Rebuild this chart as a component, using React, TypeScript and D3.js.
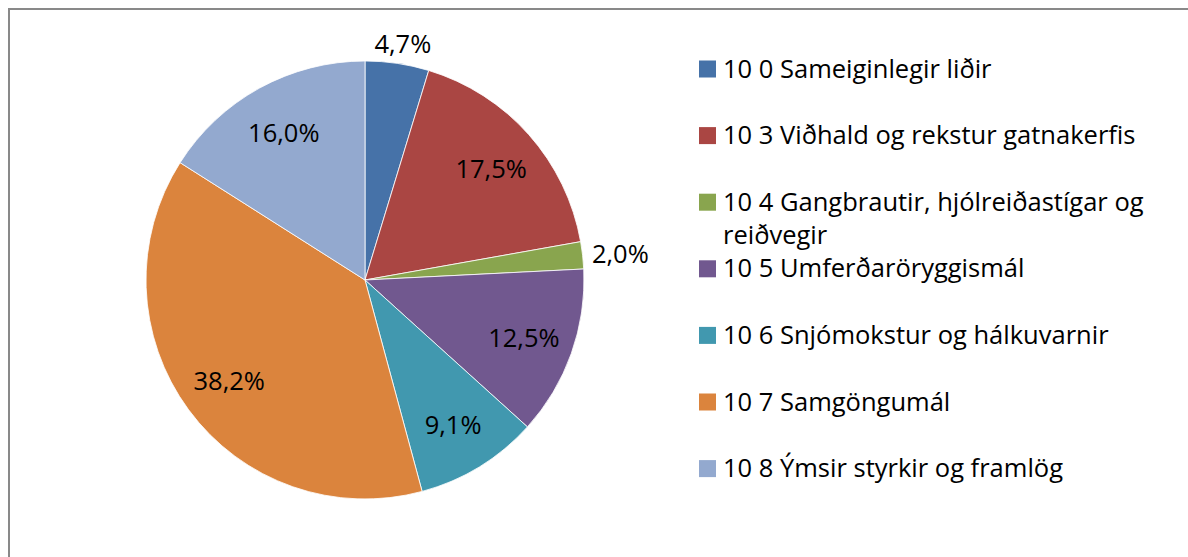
import React, { useEffect, useRef } from "react";
import * as d3 from "d3";

const categories = [
  "10 0 Sameiginlegir liðir",
  "10 3 Viðhald og rekstur gatnakerfis",
  "10 4 Gangbrautir, hjólreiðastígar og reiðvegir",
  "10 5 Umferðaröryggismál",
  "10 6 Snjómokstur og hálkuvarnir",
  "10 7 Samgöngumál",
  "10 8 Ýmsir styrkir og framlög",
];
const values = [4.7, 17.5, 2.0, 12.5, 9.1, 38.2, 16.0];
const legendLines = [
  ["10 0 Sameiginlegir liðir"],
  ["10 3 Viðhald og rekstur gatnakerfis"],
  ["10 4 Gangbrautir, hjólreiðastígar og", "reiðvegir"],
  ["10 5 Umferðaröryggismál"],
  ["10 6 Snjómokstur og hálkuvarnir"],
  ["10 7 Samgöngumál"],
  ["10 8 Ýmsir styrkir og framlög"],
];
const colors = ["#4672A8", "#AA4643", "#89A54E", "#71588F", "#4198AF", "#DB843D", "#93A9CF"];

const width = 1188;
const height = 557;
const cx = 365;
const cy = 280;
const radius = 219;
const font = "'Open Sans', Lato, sans-serif";

export default function App() {
  const svgRef = useRef<SVGSVGElement>(null);

  useEffect(() => {
    const svg = d3.select(svgRef.current);
    svg.selectAll("*").remove();

    svg
      .append("rect")
      .attr("x", 9)
      .attr("y", 9)
      .attr("width", width + 20)
      .attr("height", height + 20)
      .attr("fill", "white")
      .attr("stroke", "#898989")
      .attr("stroke-width", 2);

    const data = categories.map((name, i) => ({ name, value: values[i] }));
    const arcs = d3
      .pie<{ name: string; value: number }>()
      .sort(null)
      .value((d) => d.value)(data);
    const arc = d3.arc<any>().innerRadius(0).outerRadius(radius);

    const plot = svg.append("g").attr("transform", `translate(${cx}, ${cy})`);

    plot
      .selectAll("path")
      .data(arcs)
      .join("path")
      .attr("fill", (d, i) => colors[i])
      .attr("stroke", "white")
      .attr("stroke-width", 0.8)
      .attr("d", arc);

    const fmt = (v: number) => v.toFixed(1).replace(".", ",") + "%";

    plot
      .selectAll("text")
      .data(arcs)
      .join("text")
      .attr("font-family", font)
      .attr("font-size", 25.5)
      .attr("fill", "black")
      .attr("text-anchor", "middle")
      .attr("dominant-baseline", "central")
      .attr("transform", (d) => {
        const a = (d.startAngle + d.endAngle) / 2;
        const s = Math.sin(a);
        const c = -Math.cos(a);
        if (d.data.value < 5) {
          const r = radius + 8;
          return `translate(${s * r + s * 30}, ${c * r + c * 13})`;
        }
        const r = radius * 0.77;
        return `translate(${s * r}, ${c * r})`;
      })
      .text((d) => fmt(d.data.value));

    const legend = svg.append("g").attr("transform", "translate(699, 69)");
    const item = legend
      .selectAll("g")
      .data(legendLines)
      .join("g")
      .attr("transform", (d, i) => `translate(0, ${i * 66.6})`);

    item
      .append("rect")
      .attr("x", 0)
      .attr("y", -8.5)
      .attr("width", 17)
      .attr("height", 17)
      .attr("fill", (d, i) => colors[i]);

    item
      .append("text")
      .attr("font-family", font)
      .attr("font-size", 25.5)
      .attr("fill", "black")
      .selectAll("tspan")
      .data((d) => d)
      .join("tspan")
      .attr("x", 24)
      .attr("y", (d, j) => 8.5 + j * 33)
      .text((d) => d);
  }, []);

  return (
    <div style={{ position: "fixed", left: 0, top: 0 }}>
      <svg ref={svgRef} width={width} height={height} style={{ display: "block" }} />
    </div>
  );
}
